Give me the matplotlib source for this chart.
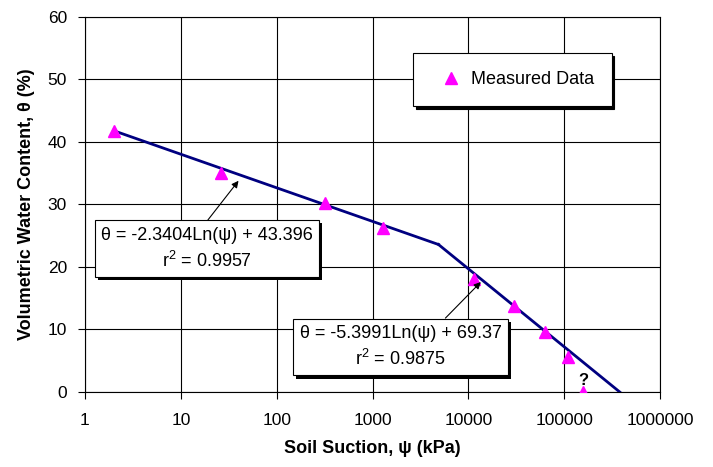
import matplotlib
matplotlib.use('Agg')
import matplotlib.pyplot as plt
import matplotlib.patheffects as pe

plt.rcParams['font.family'] = ['Liberation Sans', 'DejaVu Sans']
plt.rcParams['mathtext.fontset'] = 'custom'
plt.rcParams['mathtext.rm'] = 'Liberation Sans'
plt.rcParams['mathtext.it'] = 'Liberation Sans:italic'

# measured points
suction = [2, 26.5, 322, 1300, 11500, 30000, 63000, 110000, 158000]
theta = [41.8, 35.0, 30.2, 26.3, 18.0, 13.8, 9.6, 5.6, 0.0]

# fitted lines (end points)
fit1_psi = [2, 4880]
fit1_theta = [41.8, 23.6]
fit2_psi = [4880, 380000]
fit2_theta = [23.6, 0.0]

x_ticks = [1, 10, 100, 1000, 10000, 100000, 1000000]
x_labels = ['1', '10', '100', '1000', '10000', '100000', '1000000']
y_ticks = [0, 10, 20, 30, 40, 50, 60]

fig = plt.figure(figsize=(7.13, 4.67), dpi=100)
ax = fig.add_axes([0.1192, 0.1606, 0.8065, 0.803])

ax.plot(fit1_psi, fit1_theta, color='#000080', lw=2, zorder=3)
ax.plot(fit2_psi, fit2_theta, color='#000080', lw=2, zorder=3)
ax.plot(suction, theta, ls='none', marker='^', ms=9, color='#ff00ff',
        mec='#ff00ff', zorder=4, label='Measured Data')

ax.set_xscale('log')
ax.set_xlim(1, 1000000)
ax.set_ylim(0, 60)
ax.set_xticks(x_ticks)
ax.set_xticklabels(x_labels)
ax.set_yticks(y_ticks)
ax.minorticks_off()
ax.tick_params(axis='both', direction='out', length=5, labelsize=12.5,
               colors='black')
ax.tick_params(axis='x', pad=10)
ax.tick_params(axis='y', pad=8)
ax.grid(True, color='black', lw=0.8)
ax.set_axisbelow(True)
for s in ax.spines.values():
  s.set_linewidth(0.8)

ax.set_xlabel('Soil Suction, ψ (kPa)', fontsize=13, fontweight='bold',
              labelpad=9)
ax.set_ylabel('Volumetric Water Content, θ (%)', fontsize=13,
              fontweight='bold', labelpad=9)

shadow = [pe.SimplePatchShadow(offset=(2.2, -2.2), shadow_rgbFace='black',
                               alpha=1), pe.Normal()]
box = dict(boxstyle='square,pad=0.35', fc='white', ec='black', lw=0.8)

t1 = ax.annotate('θ = -2.3404Ln(ψ) + 43.396\nr$^{2}$ = 0.9957', xy=(40, 33.8),
                 xytext=(18.7, 22.9), ha='center', va='center', fontsize=13,
                 multialignment='center', linespacing=1.45,
                 bbox=box, zorder=6,
                 arrowprops=dict(arrowstyle='-|>', color='black', lw=0.8,
                                 relpos=(0.48, 1.0), shrinkA=0, shrinkB=0,
                                 mutation_scale=10))
t2 = ax.annotate('θ = -5.3991Ln(ψ) + 69.37\nr$^{2}$ = 0.9875', xy=(13500, 17.6),
                 xytext=(10 ** ((401 - 85) / 96), 7.2), ha='center',
                 va='center', fontsize=13, multialignment='center',
                 linespacing=1.45, bbox=box, zorder=6,
                 arrowprops=dict(arrowstyle='-|>', color='black', lw=0.8,
                                 relpos=(0.69, 1.0), shrinkA=0, shrinkB=0,
                                 mutation_scale=10))
for t in (t1, t2):
  t.get_bbox_patch().set_path_effects(shadow)

ax.text(158000, 0.6, '?', ha='center', va='bottom', fontsize=12,
        fontweight='bold', zorder=5)

leg = ax.legend(loc='upper left', bbox_to_anchor=(0.570, 0.904),
                borderaxespad=0, fontsize=13, numpoints=1, fancybox=False,
                framealpha=1, edgecolor='black', borderpad=1.0,
                handlelength=2.2, handletextpad=0.0,
                shadow={'color': 'black', 'alpha': 1})
leg.get_frame().set_linewidth(0.8)

fig.savefig('out.png', dpi=100)
